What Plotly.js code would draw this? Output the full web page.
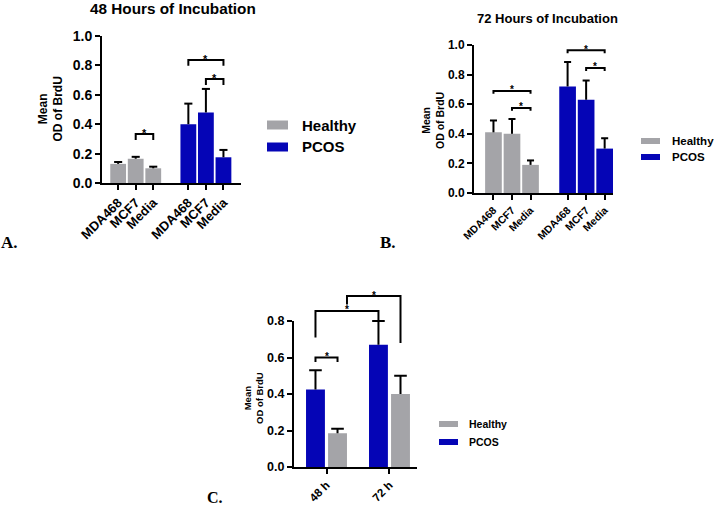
<!DOCTYPE html>
<html><head><meta charset="utf-8">
<script src="https://cdn.plot.ly/plotly-3.0.1.min.js"></script>
<style>html,body{margin:0;padding:0;background:#fff}#chart{width:714px;height:508px}</style>
</head><body><div id="chart"></div>
<script>
// ---------- data ----------
const cellLines = ["MDA468", "MCF7", "Media"];
const groups = ["Healthy", "PCOS"];

// A. 48 hours (bar mean, top of error bar)
const healthy48 = [0.13, 0.165, 0.10];
const healthy48Top = [0.143, 0.178, 0.111];
const pcos48 = [0.40, 0.48, 0.175];
const pcos48Top = [0.54, 0.64, 0.225];
const sig48 = [["Healthy", "MCF7", "Media", 0.333], ["PCOS", "MDA468", "Media", 0.837], ["PCOS", "MCF7", "Media", 0.707]];

// B. 72 hours
const healthy72 = [0.41, 0.40, 0.19];
const healthy72Top = [0.49, 0.50, 0.22];
const pcos72 = [0.72, 0.63, 0.30];
const pcos72Top = [0.885, 0.76, 0.37];
const sig72 = [["Healthy", "MDA468", "Media", 0.69], ["Healthy", "MCF7", "Media", 0.575], ["PCOS", "MDA468", "Media", 0.965], ["PCOS", "MCF7", "Media", 0.845]];

// C. by time
const times = ["48 h", "72 h"];
const pcosTime = [0.425, 0.67];
const pcosTimeTop = [0.53, 0.80];
const healthyTime = [0.185, 0.40];
const healthyTimeTop = [0.21, 0.50];
const sigTime = [
  {a: [["48 h", "PCOS"]], b: [["48 h", "Healthy"]], y: 0.60, ya: 0.575, yb: 0.575},
  {a: [["48 h", "PCOS"]], b: [["72 h", "PCOS"]], y: 0.855, ya: 0.71, yb: 0.805},
  {a: [["48 h", "PCOS"], ["72 h", "PCOS"]], b: [["72 h", "Healthy"]], y: 0.937, ya: 0.89, yb: 0.68}
];

const yTitle = 'Mean<br>OD of BrdU';

// ---------- style ----------
const FONT = '"Liberation Sans", Arial, sans-serif';
const SERIF = '"Liberation Serif", "Times New Roman", serif';
const GRAY = '#a4a4a8', BLUE = '#0505b6';
const COLORS = {Healthy: GRAY, PCOS: BLUE};
const W = 714, H = 508;
const px = v => v / W, py = v => 1 - v / H;

// positions
const posAB = (g, c) => groups.indexOf(g) * 4 + cellLines.indexOf(c);
const posC = (t, g) => times.indexOf(t) + (g === "PCOS" ? -0.175 : 0.175);

const traces = [];
const annotations = [];
const f = (size) => ({family: FONT, size: size, color: '#000', weight: 700});

function errTrace(xs, vals, tops, hw, xa, ya) {
  const x = [], y = [];
  xs.forEach((p, i) => {
    x.push(p, p, null, p - hw, p + hw, null);
    y.push(vals[i], tops[i], null, tops[i], tops[i], null);
  });
  return {type: 'scatter', mode: 'lines', x, y, xaxis: xa, yaxis: ya, line: {color: '#000', width: 2}, hoverinfo: 'skip', showlegend: false};
}
function bracketTrace(list, leg, xa, ya) {
  const x = [], y = [];
  list.forEach(s => {
    x.push(s.x0, s.x0, s.x1, s.x1, null);
    y.push(s.ya !== undefined ? s.ya : s.y - leg, s.y, s.y, s.yb !== undefined ? s.yb : s.y - leg, null);
  });
  return {type: 'scatter', mode: 'lines', x, y, xaxis: xa, yaxis: ya, line: {color: '#000', width: 2}, hoverinfo: 'skip', showlegend: false};
}
function stars(list, xa, ya, size) {
  list.forEach(s => annotations.push({xref: xa, yref: ya, x: (s.x0 + s.x1) / 2, y: s.y, text: '*', showarrow: false,
    xanchor: 'center', yanchor: 'middle', yshift: 1, font: f(size)}));
}

// ----- panels A and B -----
[[healthy48, healthy48Top, pcos48, pcos48Top, sig48, 'x', 'y', 0.23, 0.04, 11],
 [healthy72, healthy72Top, pcos72, pcos72Top, sig72, 'x2', 'y2', 0.19, 0.02, 10]].forEach(([hv, ht, pv, pt, sig, xa, ya, hw, leg, ss]) => {
  [["Healthy", hv, ht], ["PCOS", pv, pt]].forEach(([g, v, t]) => {
    const xs = cellLines.map(c => posAB(g, c));
    traces.push({type: 'bar', name: g, x: xs, y: v, width: 0.9, xaxis: xa, yaxis: ya,
      marker: {color: COLORS[g], line: {width: 0}}, hoverinfo: 'skip', showlegend: false});
    traces.push(errTrace(xs, v, t, hw, xa, ya));
  });
  const br = sig.map(([g, c0, c1, h]) => ({x0: posAB(g, c0), x1: posAB(g, c1), y: h}));
  traces.push(bracketTrace(br, leg, xa, ya));
  stars(br, xa, ya, ss);
});

// ----- panel C -----
[["PCOS", pcosTime, pcosTimeTop], ["Healthy", healthyTime, healthyTimeTop]].forEach(([g, v, t]) => {
  const xs = times.map(tm => posC(tm, g));
  traces.push({type: 'bar', name: g, x: xs, y: v, width: 0.30, xaxis: 'x3', yaxis: 'y3',
    marker: {color: COLORS[g], line: {width: 0}}, hoverinfo: 'skip', showlegend: false});
  traces.push(errTrace(xs, v, t, 0.1, 'x4', 'y4'));
});
const mean = arr => arr.reduce((s, v) => s + v, 0) / arr.length;
const brC = sigTime.map(s => ({x0: mean(s.a.map(([t, g]) => posC(t, g))), x1: mean(s.b.map(([t, g]) => posC(t, g))), y: s.y, ya: s.ya, yb: s.yb}));
traces.push(bracketTrace(brC, 0.02, 'x4', 'y4'));
stars(brC, 'x4', 'y4', 10);

// ---------- axes ----------
const axBase = {showline: true, linecolor: '#000', linewidth: 2, ticks: 'outside', ticklen: 5, tickwidth: 2, tickcolor: '#000',
  showgrid: false, zeroline: false, fixedrange: true};
const tickAB = groups.flatMap(g => cellLines.map(c => posAB(g, c)));
const textAB = groups.flatMap(() => cellLines);

// legends, titles, panel letters, y-axis titles
const shapes = [];
function legend(x0, x1, y1, y2, h, tx, size) {
  [["Healthy", y1], ["PCOS", y2]].forEach(([g, y]) => {
    shapes.push({type: 'rect', xref: 'paper', yref: 'paper', x0: px(x0), x1: px(x1), y0: py(y - h / 2), y1: py(y + h / 2),
      fillcolor: COLORS[g], line: {width: 0}});
    annotations.push({xref: 'paper', yref: 'paper', x: px(tx), y: py(y), text: g, showarrow: false, xanchor: 'left', yanchor: 'middle', font: f(size)});
  });
}
legend(267, 288, 125, 147, 9, 300, 15);
legend(641, 660, 141, 157, 6, 670, 11.5);
legend(439, 458, 424, 442, 6, 467, 10.5);

annotations.push({xref: 'paper', yref: 'paper', x: px(172.5), y: py(9), text: '48 Hours of Incubation', showarrow: false, xanchor: 'center', yanchor: 'middle', font: f(15.3)});
annotations.push({xref: 'paper', yref: 'paper', x: px(547), y: py(18), text: '72 Hours of Incubation', showarrow: false, xanchor: 'center', yanchor: 'middle', font: f(13)});
[["A.", 9, 242, 17], ["B.", 388, 242, 17], ["C.", 215, 497, 16]].forEach(([t, x, y, s]) =>
  annotations.push({xref: 'paper', yref: 'paper', x: px(x), y: py(y), text: t, showarrow: false, xanchor: 'center', yanchor: 'middle',
    font: {family: SERIF, size: s, color: '#000', weight: 700}}));
[[50.5, 109, 12], [433, 120, 10.5], [253, 398, 9.5]].forEach(([x, y, s]) =>
  annotations.push({xref: 'paper', yref: 'paper', x: px(x), y: py(y), text: yTitle, textangle: -90, showarrow: false,
    xanchor: 'center', yanchor: 'middle', align: 'center', font: f(s)}));

const layout = {
  width: W, height: H, margin: {l: 0, r: 0, t: 0, b: 0}, paper_bgcolor: '#fff', plot_bgcolor: 'rgba(0,0,0,0)',
  showlegend: false, barmode: 'overlay', font: {family: FONT, color: '#000'},
  xaxis: {...axBase, anchor: 'y', domain: [px(102), px(241)], range: [-0.92, 7.0], tickvals: tickAB, ticktext: textAB, tickangle: -45, tickfont: f(13)},
  yaxis: {...axBase, anchor: 'x', domain: [py(183), py(36)], range: [0, 1.0], tickvals: [0, 0.2, 0.4, 0.6, 0.8, 1.0], tickformat: '.1f', tickfont: f(14)},
  xaxis2: {...axBase, anchor: 'y2', domain: [px(474), px(613)], range: [-1.05, 6.45], tickvals: tickAB, ticktext: textAB, tickangle: -45, tickfont: f(10.5)},
  yaxis2: {...axBase, anchor: 'x2', domain: [py(193), py(45)], range: [0, 1.0], tickvals: [0, 0.2, 0.4, 0.6, 0.8, 1.0], tickformat: '.1f', tickfont: f(12)},
  xaxis3: {...axBase, anchor: 'y3', domain: [px(294), px(417)], range: [-0.516, 1.437], tickvals: times.map((t, i) => i), ticktext: times, tickangle: -45, tickfont: f(11.5)},
  yaxis3: {...axBase, anchor: 'x3', domain: [py(467), py(321)], range: [0, 0.8], tickvals: [0, 0.2, 0.4, 0.6, 0.8], tickformat: '.1f', tickfont: f(12.5)},
  xaxis4: {visible: false, anchor: 'y4', domain: [px(294), px(417)], range: [-0.516, 1.437], fixedrange: true},
  yaxis4: {visible: false, anchor: 'x4', domain: [py(467), py(467 - 0.96 * 182.5)], range: [0, 0.96], fixedrange: true},
  shapes: shapes, annotations: annotations
};
Plotly.newPlot('chart', traces, layout, {displayModeBar: false, staticPlot: true});
</script></body></html>
